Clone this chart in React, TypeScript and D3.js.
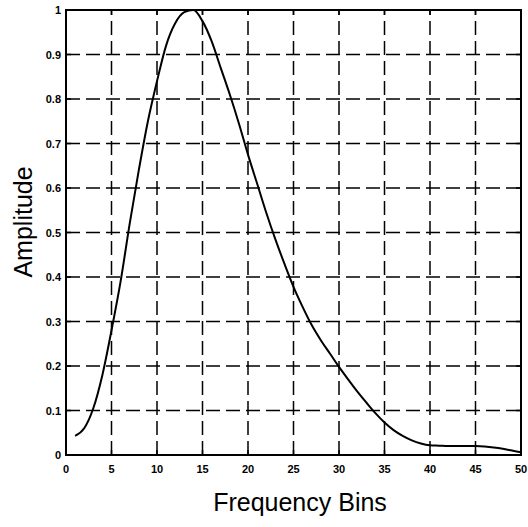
import React from "react";
import * as d3 from "d3";

const bins: number[] = d3.range(1, 51);
const amplitude: number[] = [
  0.043, 0.06, 0.105, 0.18, 0.28, 0.39, 0.52, 0.64, 0.75, 0.84,
  0.92, 0.97, 0.995, 1.0, 0.975, 0.93, 0.87, 0.81, 0.745, 0.675,
  0.61, 0.545, 0.485, 0.43, 0.378, 0.333, 0.292, 0.258, 0.228, 0.198,
  0.17, 0.143, 0.118, 0.094, 0.073, 0.056, 0.043, 0.033, 0.026, 0.022,
  0.021, 0.02, 0.02, 0.02, 0.02, 0.019, 0.017, 0.014, 0.01, 0.006,
];
const xTicks: number[] = [0, 5, 10, 15, 20, 25, 30, 35, 40, 45, 50];
const yTicks: number[] = [0, 0.1, 0.2, 0.3, 0.4, 0.5, 0.6, 0.7, 0.8, 0.9, 1];
const xTitle = "Frequency Bins";
const yTitle = "Amplitude";

export default function App() {
  const W = 528, H = 527;
  const left = 66, right = 521, top = 10, bottom = 455;
  const x = d3.scaleLinear().domain([0, 50]).range([left, right]);
  const y = d3.scaleLinear().domain([0, 1]).range([bottom, top]);
  const line = d3
    .line<number>()
    .x((_, i) => x(bins[i]))
    .y((d) => y(d))
    .curve(d3.curveMonotoneX);
  return (
    <svg
      width={W}
      height={H}
      style={{ position: "absolute", left: 0, top: 0, background: "#fff" }}
      fontFamily="'Liberation Sans', Arial, sans-serif"
    >
      {/* grid */}
      <g stroke="#000" strokeWidth={1.5} strokeDasharray="14,6">
        {xTicks.slice(1, -1).map((t) => (
          <line key={"gx" + t} x1={x(t)} x2={x(t)} y1={bottom} y2={top} />
        ))}
        {yTicks.slice(1, -1).map((t) => (
          <line key={"gy" + t} x1={left} x2={right} y1={y(t)} y2={y(t)} />
        ))}
      </g>
      {/* ticks */}
      <g stroke="#000" strokeWidth={1.5}>
        {xTicks.map((t) => (
          <g key={"tx" + t}>
            <line x1={x(t)} x2={x(t)} y1={bottom} y2={bottom - 5} />
            <line x1={x(t)} x2={x(t)} y1={top} y2={top + 5} />
          </g>
        ))}
        {yTicks.map((t) => (
          <g key={"ty" + t}>
            <line x1={left} x2={left + 5} y1={y(t)} y2={y(t)} />
            <line x1={right} x2={right - 5} y1={y(t)} y2={y(t)} />
          </g>
        ))}
      </g>
      {/* frame */}
      <rect
        x={left}
        y={top}
        width={right - left}
        height={bottom - top}
        fill="none"
        stroke="#000"
        strokeWidth={2}
      />
      {/* curve */}
      <path d={line(amplitude) || ""} fill="none" stroke="#000" strokeWidth={2} />
      {/* tick labels */}
      <g fontSize={11} fontWeight="bold" fill="#000">
        {xTicks.map((t) => (
          <text key={"lx" + t} x={x(t)} y={473} textAnchor="middle">
            {t}
          </text>
        ))}
        {yTicks.map((t) => (
          <text key={"ly" + t} x={left - 5} y={y(t) + 4} textAnchor="end">
            {String(t)}
          </text>
        ))}
      </g>
      {/* titles */}
      <text x={300} y={511} fontSize={25} textAnchor="middle" fill="#000">
        {xTitle}
      </text>
      <text
        transform="translate(32,222) rotate(-90)"
        fontSize={25}
        textAnchor="middle"
        fill="#000"
      >
        {yTitle}
      </text>
    </svg>
  );
}
